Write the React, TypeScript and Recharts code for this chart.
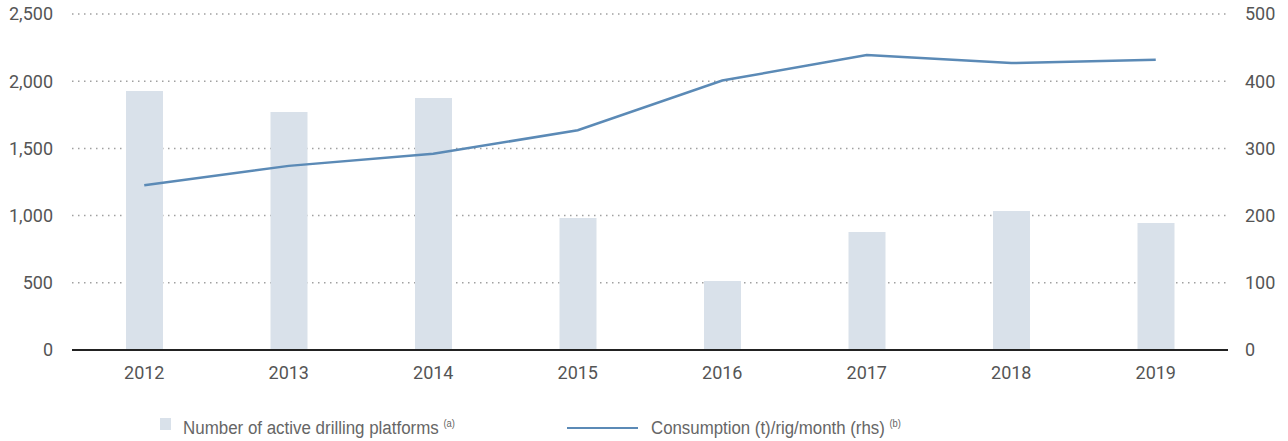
import React from "react";
import { ComposedChart, Bar, Line, XAxis, YAxis, CartesianGrid } from "recharts";

const years = ["2012", "2013", "2014", "2015", "2016", "2017", "2018", "2019"];
const platforms = [1927, 1771, 1875, 982, 513, 878, 1034, 945];
const consumption = [245, 274, 292, 327, 401, 439, 427, 432];
const leftTicks = [0, 500, 1000, 1500, 2000, 2500];
const rightTicks = [0, 100, 200, 300, 400, 500];

const data = years.map((y, i) => ({ year: y, platforms: platforms[i], consumption: consumption[i] }));

const BAR = "#d9e1ea";
const LINE = "#5b8ab6";
const TXT = "#555555";
const tickStyle = { fontFamily: "Roboto, 'Liberation Sans', sans-serif", fontSize: 18, fill: TXT };
const legendFont = "'Liberation Sans', Roboto, sans-serif";

const legendText: React.CSSProperties = {
  position: "absolute",
  top: 413,
  fontFamily: legendFont,
  fontSize: 18,
  color: "#666",
  whiteSpace: "nowrap",
  lineHeight: "22px",
  transformOrigin: "0 50%",
};

export default function App() {
  return (
    <div style={{ position: "absolute", left: 0, top: 0, width: 1288, height: 441, background: "#fff" }}>
      <ComposedChart
        width={1288}
        height={441}
        data={data}
        margin={{ top: 14, right: 0, bottom: 51, left: 0 }}
        barCategoryGap={0}
      >
        <CartesianGrid vertical={false} stroke="#a0a0a0" strokeWidth={1.5} strokeDasharray="1.5 4.5" yAxisId="left" />
        <XAxis
          dataKey="year"
          height={40}
          tickLine={false}
          tickSize={0}
          tickMargin={16}
          axisLine={{ stroke: "#222", strokeWidth: 2 }}
          tick={tickStyle}
        />
        <YAxis
          yAxisId="left"
          orientation="left"
          width={72}
          domain={[0, 2500]}
          ticks={leftTicks}
          axisLine={false}
          tickLine={false}
          tickSize={0}
          tickMargin={19}
          tick={tickStyle}
          tickFormatter={(v: number) => v.toLocaleString("en-US")}
          interval={0}
        />
        <YAxis
          yAxisId="right"
          orientation="right"
          width={60}
          domain={[0, 500]}
          ticks={rightTicks}
          axisLine={false}
          tickLine={false}
          tickSize={0}
          tickMargin={17}
          tick={{ ...tickStyle, textAnchor: "start" }}
          interval={0}
        />
        <Bar yAxisId="left" dataKey="platforms" fill={BAR} barSize={37} isAnimationActive={false} />
        <Line
          yAxisId="right"
          dataKey="consumption"
          type="linear"
          stroke={LINE}
          strokeWidth={2.5}
          dot={false}
          activeDot={false}
          isAnimationActive={false}
        />
      </ComposedChart>
      <div style={{ position: "absolute", left: 160, top: 418, width: 11, height: 12, background: BAR }} />
      <div style={{ ...legendText, left: 183, transform: "scaleX(0.94)" }}>
        Number of active drilling platforms <sup style={{ fontSize: 10 }}>(a)</sup>
      </div>
      <div style={{ position: "absolute", left: 567, top: 427, width: 71, height: 2, background: LINE }} />
      <div style={{ ...legendText, left: 651, transform: "scaleX(0.935)" }}>
        Consumption (t)/rig/month (rhs) <sup style={{ fontSize: 10 }}>(b)</sup>
      </div>
    </div>
  );
}
